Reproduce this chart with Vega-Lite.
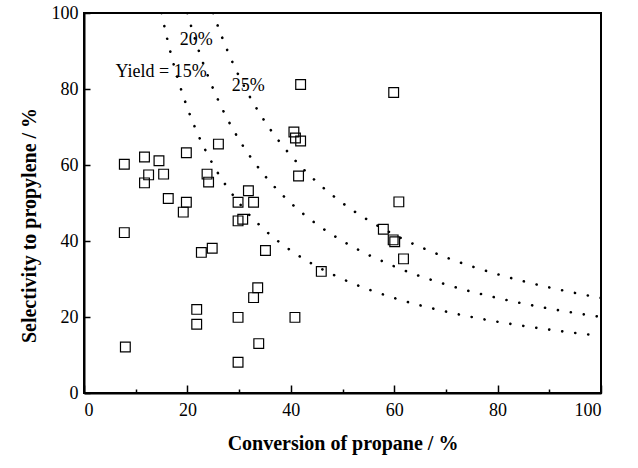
{
  "$schema": "https://vega.github.io/schema/vega-lite/v6.json",
  "autosize": {"type": "none"},
  "width": 517,
  "height": 380,
  "padding": {"left": 84, "top": 13, "right": 37, "bottom": 75},
  "background": "white",
  "config": {
    "view": {"stroke": "black", "strokeWidth": 2},
    "font": "Times New Roman, Liberation Serif, serif",
    "axis": {
      "grid": false,
      "domainColor": "black",
      "domainWidth": 2,
      "tickColor": "black",
      "tickWidth": 1.5,
      "labelFont": "Times New Roman, Liberation Serif, serif",
      "labelFontSize": 18,
      "labelColor": "black",
      "titleFont": "Times New Roman, Liberation Serif, serif",
      "titleFontSize": 20,
      "titleFontWeight": "bold",
      "titleColor": "black"
    }
  },
  "datasets": {
    "points": [
      {"conv": 8, "sel": 12.1}, {"conv": 7.8, "sel": 42.2}, {"conv": 7.8, "sel": 60.2},
      {"conv": 11.7, "sel": 62.1}, {"conv": 12.5, "sel": 57.4}, {"conv": 11.7, "sel": 55.3},
      {"conv": 14.5, "sel": 61.1}, {"conv": 15.4, "sel": 57.6}, {"conv": 16.3, "sel": 51.2},
      {"conv": 19.8, "sel": 63.2}, {"conv": 19.8, "sel": 50.2}, {"conv": 19.2, "sel": 47.6},
      {"conv": 21.8, "sel": 22.0}, {"conv": 21.8, "sel": 18.1}, {"conv": 22.7, "sel": 37.0},
      {"conv": 24.8, "sel": 38.1}, {"conv": 23.8, "sel": 57.6}, {"conv": 24.1, "sel": 55.5},
      {"conv": 26.0, "sel": 65.5}, {"conv": 29.8, "sel": 50.2}, {"conv": 32.8, "sel": 50.2},
      {"conv": 31.8, "sel": 53.2}, {"conv": 30.7, "sel": 45.7}, {"conv": 29.8, "sel": 45.3},
      {"conv": 35.1, "sel": 37.5}, {"conv": 45.9, "sel": 32.0}, {"conv": 33.6, "sel": 27.7},
      {"conv": 32.8, "sel": 25.1}, {"conv": 29.8, "sel": 19.9}, {"conv": 40.8, "sel": 19.9},
      {"conv": 33.8, "sel": 13.0}, {"conv": 29.8, "sel": 8.1}, {"conv": 41.9, "sel": 81.2},
      {"conv": 40.6, "sel": 68.7}, {"conv": 40.9, "sel": 67.1}, {"conv": 41.9, "sel": 66.3},
      {"conv": 41.5, "sel": 57.1}, {"conv": 59.9, "sel": 79.1}, {"conv": 60.9, "sel": 50.3},
      {"conv": 57.9, "sel": 43.1}, {"conv": 59.8, "sel": 40.3}, {"conv": 60.1, "sel": 39.8},
      {"conv": 61.8, "sel": 35.3}
    ],
    "curves": [
      {"y": "15%", "conv": 15, "sel": 100}, {"y": "15%", "conv": 16, "sel": 93.75}, {"y": "15%", "conv": 17, "sel": 88.24},
      {"y": "15%", "conv": 18, "sel": 83.33}, {"y": "15%", "conv": 20, "sel": 75}, {"y": "15%", "conv": 22, "sel": 68.18},
      {"y": "15%", "conv": 25, "sel": 60}, {"y": "15%", "conv": 30, "sel": 50}, {"y": "15%", "conv": 35, "sel": 42.86},
      {"y": "15%", "conv": 40, "sel": 37.5}, {"y": "15%", "conv": 45, "sel": 33.33}, {"y": "15%", "conv": 50, "sel": 30},
      {"y": "15%", "conv": 60, "sel": 25}, {"y": "15%", "conv": 70, "sel": 21.43}, {"y": "15%", "conv": 80, "sel": 18.75},
      {"y": "15%", "conv": 90, "sel": 16.67}, {"y": "15%", "conv": 100, "sel": 15},
      {"y": "20%", "conv": 20, "sel": 100}, {"y": "20%", "conv": 21, "sel": 95.24}, {"y": "20%", "conv": 22, "sel": 90.91},
      {"y": "20%", "conv": 24, "sel": 83.33}, {"y": "20%", "conv": 26, "sel": 76.92}, {"y": "20%", "conv": 28, "sel": 71.43},
      {"y": "20%", "conv": 30, "sel": 66.67}, {"y": "20%", "conv": 35, "sel": 57.14}, {"y": "20%", "conv": 40, "sel": 50},
      {"y": "20%", "conv": 45, "sel": 44.44}, {"y": "20%", "conv": 50, "sel": 40}, {"y": "20%", "conv": 60, "sel": 33.33},
      {"y": "20%", "conv": 70, "sel": 28.57}, {"y": "20%", "conv": 80, "sel": 25}, {"y": "20%", "conv": 90, "sel": 22.22},
      {"y": "20%", "conv": 100, "sel": 20},
      {"y": "25%", "conv": 25, "sel": 100}, {"y": "25%", "conv": 26, "sel": 96.15}, {"y": "25%", "conv": 28, "sel": 89.29},
      {"y": "25%", "conv": 30, "sel": 83.33}, {"y": "25%", "conv": 32, "sel": 78.13}, {"y": "25%", "conv": 35, "sel": 71.43},
      {"y": "25%", "conv": 40, "sel": 62.5}, {"y": "25%", "conv": 45, "sel": 55.56}, {"y": "25%", "conv": 50, "sel": 50},
      {"y": "25%", "conv": 60, "sel": 41.67}, {"y": "25%", "conv": 70, "sel": 35.71}, {"y": "25%", "conv": 80, "sel": 31.25},
      {"y": "25%", "conv": 90, "sel": 27.78}, {"y": "25%", "conv": 100, "sel": 25}
    ],
    "labels": [
      {"conv": 6.1, "sel": 84.5, "text": "Yield = 15%"},
      {"conv": 18.5, "sel": 92.8, "text": "20%"},
      {"conv": 28.6, "sel": 80.8, "text": "25%"}
    ]
  },
  "layer": [
    {
      "data": {"name": "curves"},
      "mark": {"type": "line", "color": "black", "strokeWidth": 2.6, "strokeDash": [0.1, 13], "strokeCap": "round", "interpolate": "monotone", "clip": true},
      "encoding": {
        "x": {"field": "conv", "type": "quantitative", "scale": {"domain": [0, 100], "nice": false},
          "axis": {"values": [0, 10, 20, 30, 40, 50, 60, 70, 80, 90, 100],
            "labelExpr": "datum.value % 20 === 0 ? datum.label : ''",
            "tickSize": {"condition": {"test": "datum.value % 20 === 0", "value": -8}, "value": -4},
            "labelPadding": 16, "title": "Conversion of propane / %", "titlePadding": 14}},
        "y": {"field": "sel", "type": "quantitative", "scale": {"domain": [0, 100], "nice": false},
          "axis": {"values": [0, 10, 20, 30, 40, 50, 60, 70, 80, 90, 100], "labelExpr": "datum.value % 20 === 0 ? datum.label : ''", "tickSize": -6, "labelPadding": 12, "title": "Selectivity to propylene / %", "titleY": 212, "titlePadding": 12}},
        "detail": {"field": "y"}
      }
    },
    {
      "data": {"name": "points"},
      "mark": {"type": "point", "shape": "square", "filled": false, "color": "black", "strokeWidth": 1.2, "size": 95, "opacity": 1},
      "encoding": {
        "x": {"field": "conv", "type": "quantitative"},
        "y": {"field": "sel", "type": "quantitative"}
      }
    },
    {
      "data": {"name": "labels"},
      "mark": {"type": "text", "align": "left", "baseline": "middle", "font": "Times New Roman, Liberation Serif, serif", "fontSize": 18, "color": "black"},
      "encoding": {
        "x": {"field": "conv", "type": "quantitative"},
        "y": {"field": "sel", "type": "quantitative"},
        "text": {"field": "text"}
      }
    }
  ]
}
